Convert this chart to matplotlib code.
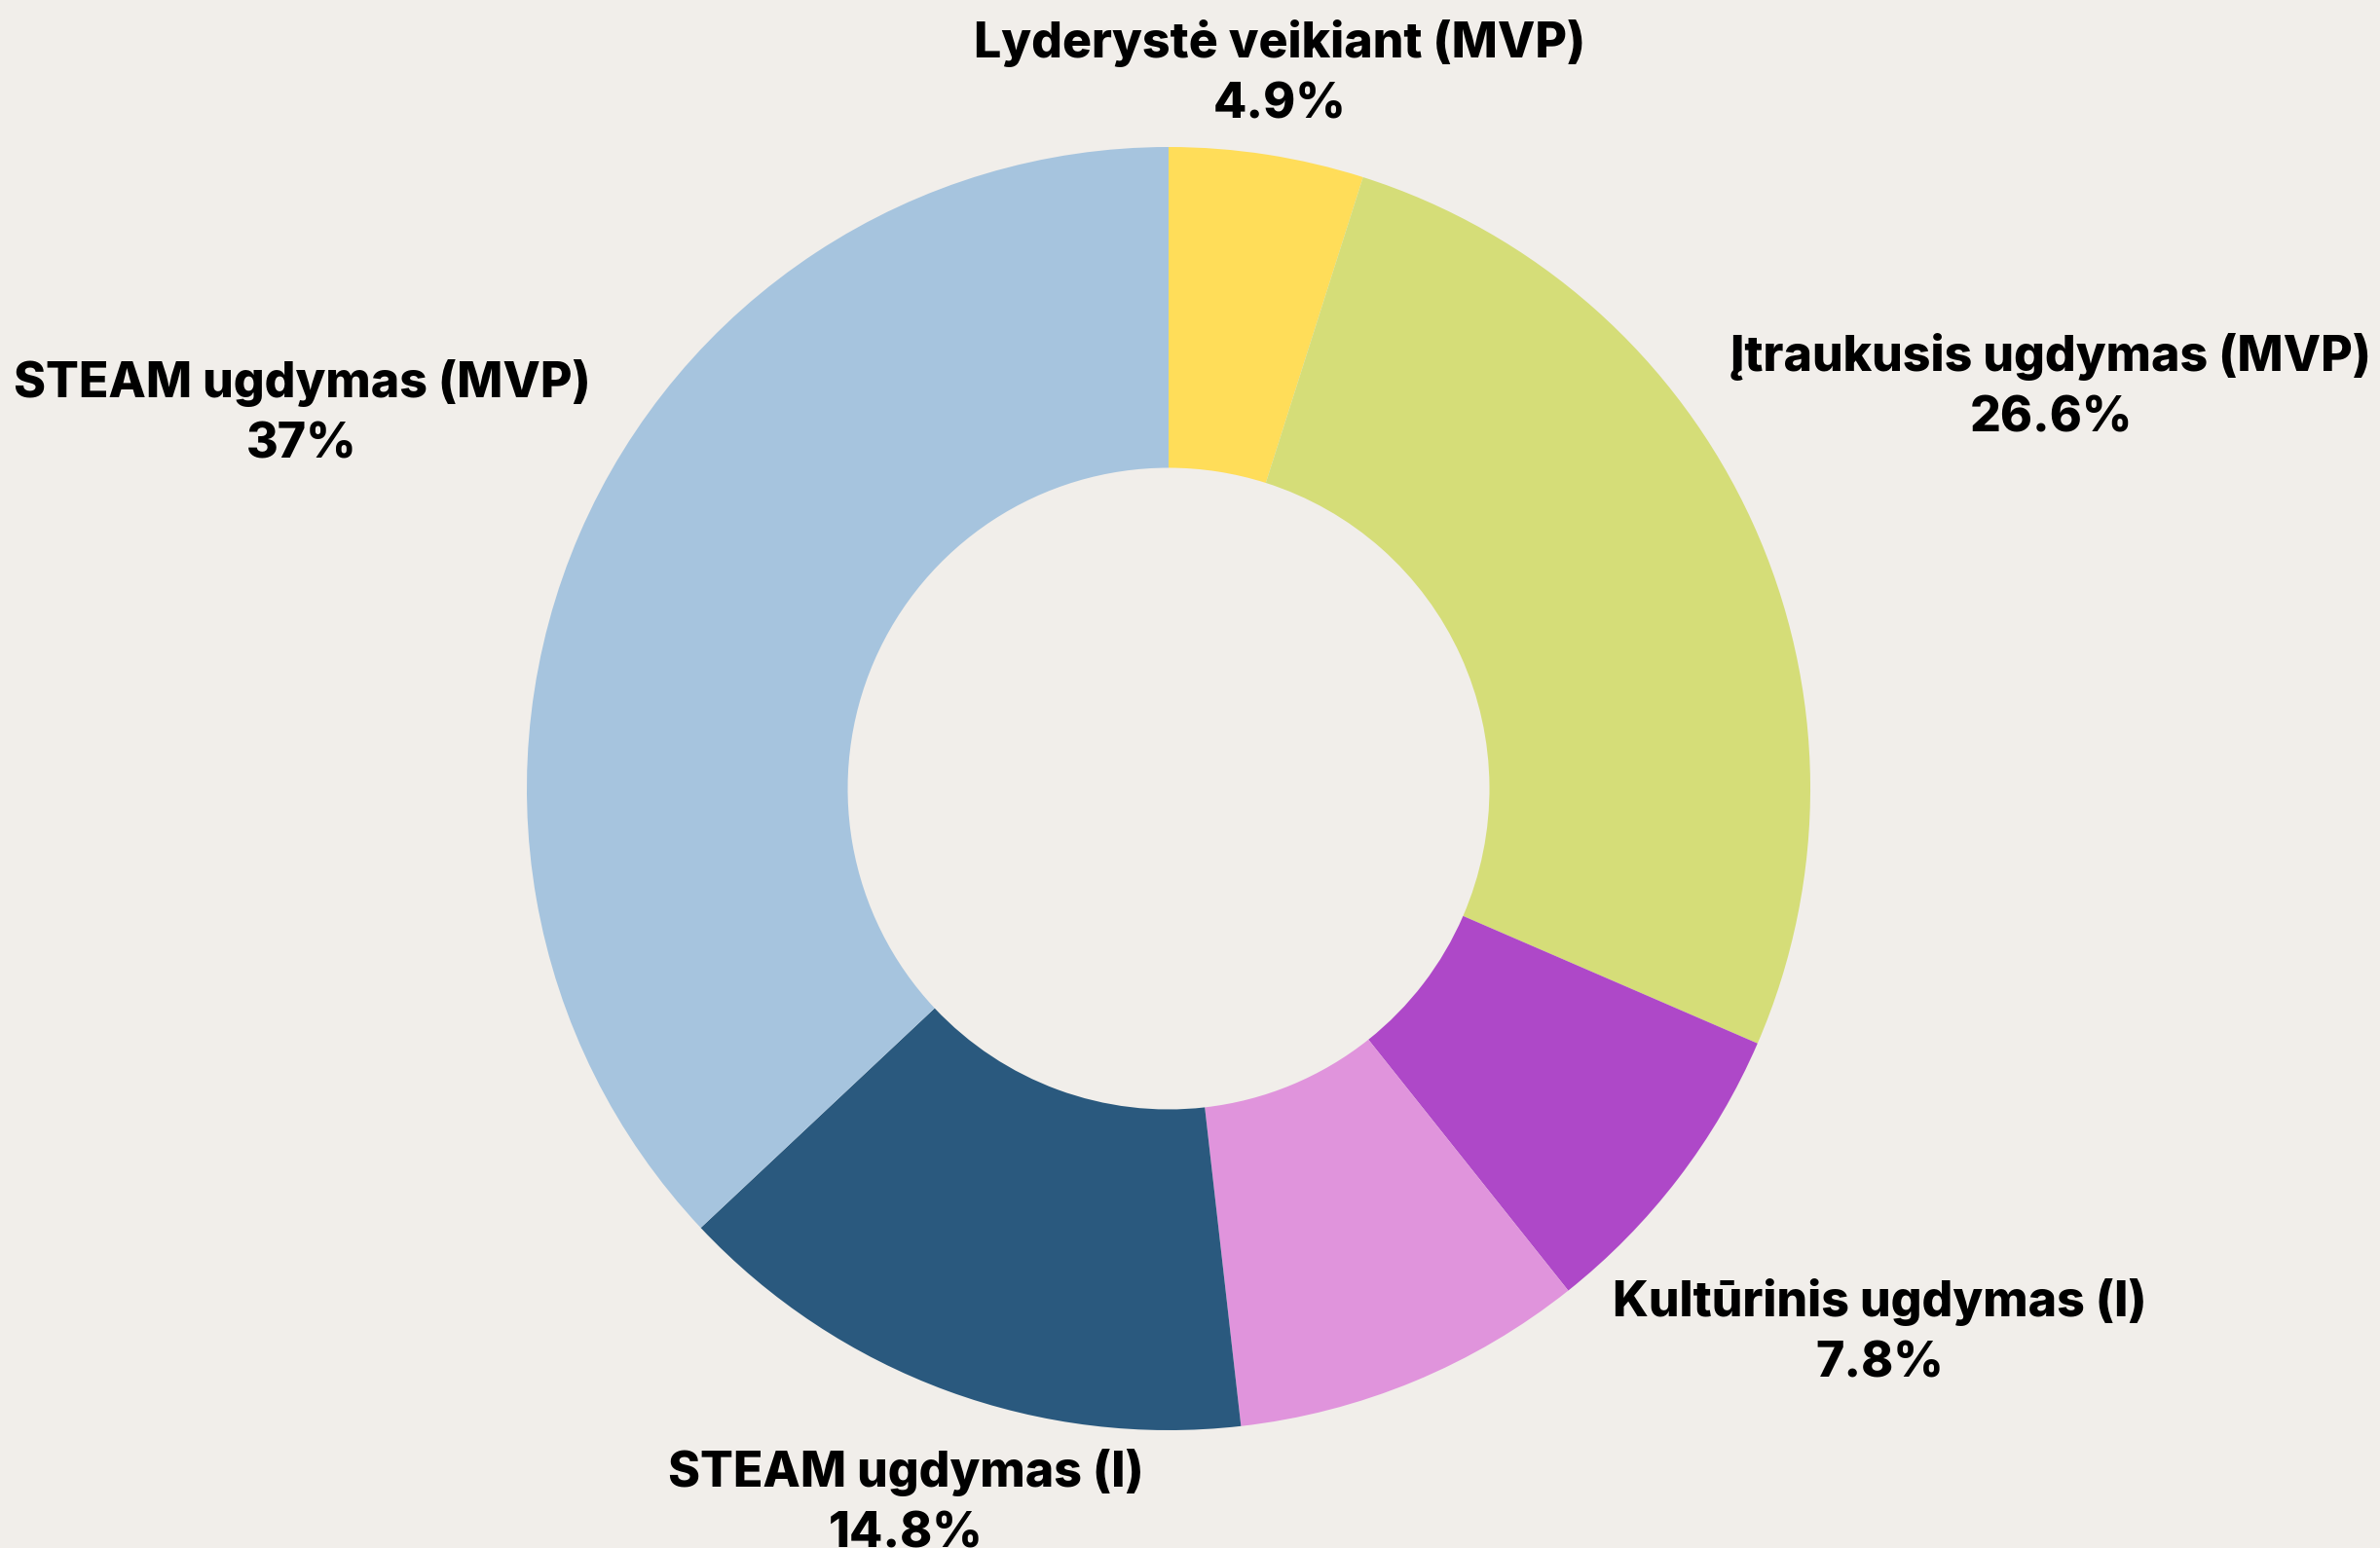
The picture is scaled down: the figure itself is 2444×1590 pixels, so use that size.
import numpy as np
import matplotlib.pyplot as plt

# slices, clockwise from the top
labels = ['Lyderystė veikiant (MVP)', 'Įtraukusis ugdymas (MVP)', 'Kultūrinis ugdymas (I)',
          '', 'STEAM ugdymas (I)', 'STEAM ugdymas (MVP)']
values = [4.9, 26.6, 7.8, 8.9, 14.8, 37.0]
colors = ['#FFDD59', '#D5DD78', '#AE48C8', '#E094DC', '#2A597E', '#A6C4DE']

bg = '#F1EEEA'
plt.rcParams['font.family'] = ['Inter', 'DejaVu Sans']

fig = plt.figure(figsize=(24.44, 15.9), dpi=100, facecolor=bg)
ax = fig.add_axes([0, 0, 1, 1])
ax.set_facecolor(bg)
ax.axis('off')

wedges, _ = ax.pie(values, colors=colors, startangle=90, counterclock=False,
                   radius=1, wedgeprops=dict(width=0.5, linewidth=0))

# pie centre at (1200, 810) px, radius 659 px
scale = 659
ax.set_xlim(-1200 / scale, (2444 - 1200) / scale)
ax.set_ylim(-(1590 - 810) / scale, 810 / scale)
ax.set_aspect('auto')

renderer = fig.canvas.get_renderer()
gap = 1.03  # nearest point of the label box sits this far from the centre

for w, lab, v in zip(wedges, labels, values):
    if not lab:
        continue
    ang = np.deg2rad((w.theta1 + w.theta2) / 2)
    ux, uy = np.cos(ang), np.sin(ang)
    txt = ax.text(0, 0, f'{lab}\n{v:g}%', ha='center', va='center',
                  fontsize=36, fontweight='heavy', color='black', linespacing=1.42)
    bb = txt.get_window_extent(renderer)
    hw = bb.width / 2 / scale
    hh = bb.height / 2 / scale
    lo, hi = 0.0, 5.0
    for _ in range(60):
        d = (lo + hi) / 2
        dx = max(0, abs(d * ux) - hw)
        dy = max(0, abs(d * uy) - hh)
        if np.hypot(dx, dy) < gap:
            lo = d
        else:
            hi = d
    txt.set_position((d * ux, d * uy))

fig.savefig('out.png', dpi=100, facecolor=bg)
